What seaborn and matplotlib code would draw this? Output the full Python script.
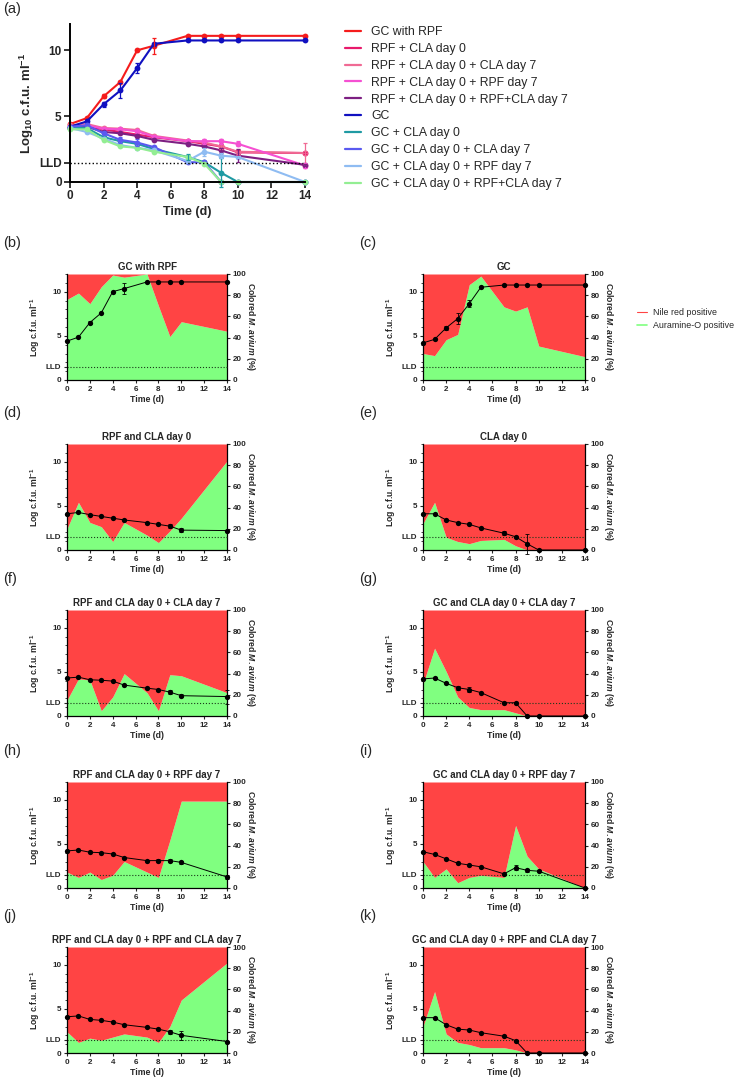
"""
Growth of M. avium under RPF / CLA regimes: c.f.u. counts and staining fractions.
"""

import numpy as np
import pandas as pd
import matplotlib
matplotlib.use('Agg')
import matplotlib.pyplot as plt
import seaborn as sns
from matplotlib.lines import Line2D
from matplotlib.ticker import MultipleLocator

# sampling days and lower limit of detection (log10 c.f.u./ml)
DAYS = [0, 1, 2, 3, 4, 5, 7, 8, 9, 10, 14]
LLD = 1.48

GROUPS = ['GC with RPF', 'RPF + CLA day 0', 'RPF + CLA day 0 + CLA day 7',
          'RPF + CLA day 0 + RPF day 7', 'RPF + CLA day 0 + RPF+CLA day 7',
          'GC', 'GC + CLA day 0', 'GC + CLA day 0 + CLA day 7',
          'GC + CLA day 0 + RPF day 7', 'GC + CLA day 0 + RPF+CLA day 7']
COLORS = ['#f51c1c', '#e8196b', '#f06a94', '#f550d2', '#7d1f82',
          '#1010c0', '#1f9aa3', '#5a5af0', '#8fbcf2', '#93ee93']

# log10 c.f.u./ml per group
gc_rpf = [4.4, 4.85, 6.5, 7.6, 10.0, 10.35, 11.1, 11.1, 11.1, 11.1, 11.1]
rpf_cla0 = [4.1, 4.25, 4.0, 3.8, 3.6, 3.4, 3.1, 2.9, 2.7, 2.25, 2.2]
rpf_cla0_cla7 = [4.3, 4.4, 4.1, 4.05, 3.95, 3.5, 3.15, 3.0, 2.7, 2.3, 2.2]
rpf_cla0_rpf7 = [4.2, 4.3, 4.05, 4.0, 3.85, 3.45, 3.1, 3.1, 3.1, 2.9, 1.25]
rpf_cla0_rpfcla7 = [4.1, 4.2, 3.8, 3.7, 3.5, 3.2, 2.9, 2.7, 2.4, 2.0, 1.3]
gc = [4.2, 4.6, 5.9, 6.95, 8.65, 10.5, 10.75, 10.75, 10.75, 10.75, 10.75]
gc_cla0 = [4.1, 4.1, 3.4, 3.1, 2.9, 2.5, 1.9, 1.5, 0.7, 0.0, 0.0]
gc_cla0_cla7 = [4.2, 4.3, 3.7, 3.2, 3.0, 2.65, 1.5, 1.5, 0.0, 0.0, 0.0]
gc_cla0_rpf7 = [4.1, 3.8, 3.3, 2.8, 2.6, 2.4, 1.6, 2.3, 2.0, 1.9, 0.0]
gc_cla0_rpfcla7 = [4.0, 4.0, 3.2, 2.7, 2.6, 2.3, 1.9, 1.4, 0.0, 0.0, 0.0]

# standard deviations (0 = bar hidden behind marker)
err_gc_rpf = [0, 0, 0.15, 0, 0, 0.6, 0, 0, 0, 0, 0]
err_rpf_cla0 = [0, 0, 0, 0, 0, 0, 0, 0, 0.2, 0.2, 0.1]
err_rpf_cla0_cla7 = [0, 0, 0, 0, 0, 0, 0, 0, 0.2, 0.2, 0.8]
err_rpf_cla0_rpf7 = [0, 0, 0, 0, 0, 0, 0, 0.2, 0.2, 0.2, 0.2]
err_rpf_cla0_rpfcla7 = [0, 0, 0, 0, 0, 0, 0, 0, 0.2, 0.5, 0.1]
err_gc = [0, 0, 0.2, 0.6, 0.4, 0, 0, 0, 0, 0, 0]
err_gc_cla0 = [0, 0, 0, 0, 0, 0, 0.2, 0, 1.1, 0, 0]
err_gc_cla0_cla7 = [0, 0, 0, 0.2, 0.3, 0, 0, 0, 0, 0, 0]
err_gc_cla0_rpf7 = [0, 0, 0, 0, 0, 0, 0, 0.3, 0.2, 0.1, 0]
err_gc_cla0_rpfcla7 = [0, 0, 0, 0, 0, 0, 0, 0, 0, 0, 0]

# Auramine-O positive share (%) for panels (b)-(k); remainder is Nile red positive
pct_gc_rpf = [76, 82, 72, 88, 99, 97, 100, 70, 41, 55, 46]
pct_gc = [25, 23, 38, 43, 90, 98, 69, 65, 69, 32, 22]
pct_rpf_cla0 = [20, 45, 26, 22, 8, 26, 14, 7, 18, 30, 84]
pct_gc_cla0 = [25, 45, 12, 8, 6, 9, 10, 4, 0, 0, 0]
pct_rpf_cla0_cla7 = [15, 35, 34, 5, 18, 40, 22, 5, 39, 38, 22]
pct_gc_cla0_cla7 = [30, 64, 42, 18, 8, 6, 6, 3, 0, 0, 0]
pct_rpf_cla0_rpf7 = [15, 10, 15, 8, 12, 25, 15, 10, 45, 82, 82]
pct_gc_cla0_rpf7 = [25, 10, 18, 5, 10, 12, 10, 59, 30, 18, 0]
pct_rpf_cla0_rpfcla7 = [20, 10, 14, 12, 15, 18, 15, 10, 25, 50, 85]
pct_gc_cla0_rpfcla7 = [25, 58, 18, 10, 8, 5, 5, 3, 0, 0, 0]

CFU = [gc_rpf, rpf_cla0, rpf_cla0_cla7, rpf_cla0_rpf7, rpf_cla0_rpfcla7,
       gc, gc_cla0, gc_cla0_cla7, gc_cla0_rpf7, gc_cla0_rpfcla7]
ERR = [err_gc_rpf, err_rpf_cla0, err_rpf_cla0_cla7, err_rpf_cla0_rpf7, err_rpf_cla0_rpfcla7,
       err_gc, err_gc_cla0, err_gc_cla0_cla7, err_gc_cla0_rpf7, err_gc_cla0_rpfcla7]

PANEL_LETTERS = ['(b)', '(c)', '(d)', '(e)', '(f)', '(g)', '(h)', '(i)', '(j)', '(k)']
PANEL_TITLES = ['GC with RPF', 'GC', 'RPF and CLA day 0', 'CLA day 0',
                'RPF and CLA day 0 + CLA day 7', 'GC and CLA day 0 + CLA day 7',
                'RPF and CLA day 0 + RPF day 7', 'GC and CLA day 0 + RPF day 7',
                'RPF and CLA day 0 + RPF and CLA day 7', 'GC and CLA day 0 + RPF and CLA day 7']
PANEL_CFU = [gc_rpf, gc, rpf_cla0, gc_cla0, rpf_cla0_cla7, gc_cla0_cla7,
             rpf_cla0_rpf7, gc_cla0_rpf7, rpf_cla0_rpfcla7, gc_cla0_rpfcla7]
PANEL_ERR = [err_gc_rpf, err_gc, err_rpf_cla0, err_gc_cla0, err_rpf_cla0_cla7, err_gc_cla0_cla7,
             err_rpf_cla0_rpf7, err_gc_cla0_rpf7, err_rpf_cla0_rpfcla7, err_gc_cla0_rpfcla7]
PANEL_PCT = [pct_gc_rpf, pct_gc, pct_rpf_cla0, pct_gc_cla0, pct_rpf_cla0_cla7, pct_gc_cla0_cla7,
             pct_rpf_cla0_rpf7, pct_gc_cla0_rpf7, pct_rpf_cla0_rpfcla7, pct_gc_cla0_rpfcla7]

RED = '#ff4444'
GREEN = '#80ff80'

W, H = 735, 1085


def rect(left, top, w, h):
    """Pixel box (from top-left) -> figure fraction rect."""
    return [left / W, 1 - (top + h) / H, w / W, h / H]


def bold_ticks(ax):
    for lab in ax.get_xticklabels() + ax.get_yticklabels():
        lab.set_fontweight('bold')


def draw_errors(ax, days, vals, errs, color, lw, cap):
    d = np.array(days)
    v = np.array(vals)
    e = np.array(errs)
    m = e > 0
    if m.any():
        ax.errorbar(d[m], v[m], yerr=e[m], fmt='none', ecolor=color,
                    elinewidth=lw, capsize=cap, capthick=lw, clip_on=False, zorder=3)


sns.set_theme(style='ticks')
plt.rcParams['font.family'] = ['Liberation Sans', 'DejaVu Sans']
plt.rcParams['mathtext.fontset'] = 'custom'
plt.rcParams['mathtext.it'] = 'Liberation Sans:italic:bold'
plt.rcParams['mathtext.rm'] = 'Liberation Sans:bold'
plt.rcParams['mathtext.default'] = 'rm'

fig = plt.figure(figsize=(W / 100, H / 100), dpi=100)

# ---- panel (a): all growth curves ----
ax = fig.add_axes(rect(70, 24, 235, 158))
long = pd.DataFrame({
    'day': DAYS * len(GROUPS),
    'cfu': np.concatenate(CFU),
    'group': np.repeat(GROUPS, len(DAYS)),
})
for g, col, vals, errs in zip(GROUPS, COLORS, CFU, ERR):
    draw_errors(ax, DAYS, vals, errs, col, 0.9, 1.6)
sns.lineplot(data=long, x='day', y='cfu', hue='group', hue_order=GROUPS,
             palette=dict(zip(GROUPS, COLORS)), marker='o', markersize=4.2,
             markeredgewidth=0, linewidth=1.5, errorbar=None, legend=False,
             sort=False, ax=ax)
for ln in ax.lines:
    ln.set_clip_on(False)
ax.plot([0, 14], [LLD, LLD], ls=':', color='black', lw=1.0)
ax.set_xlim(0, 14)
ax.set_ylim(0, 12)
ax.set_xticks(range(0, 15, 2))
ax.set_yticks([0, LLD, 5, 10])
ax.set_yticklabels(['0', 'LLD', '5', '10'])
ax.tick_params(labelsize=8.5, length=4, width=1.3, pad=2)
bold_ticks(ax)
ax.set_xlabel('Time (d)', fontsize=9, fontweight='bold', labelpad=3)
ax.set_ylabel(r'Log$_{10}$ c.f.u. ml$^{-1}$', fontsize=9.5, fontweight='bold', labelpad=2)
sns.despine(ax=ax)
for s in ['left', 'bottom']:
    ax.spines[s].set_linewidth(1.4)
    ax.spines[s].set_color('black')

handles = [Line2D([], [], color=c, lw=1.6) for c in COLORS]
fig.legend(handles, GROUPS, loc='upper left', bbox_to_anchor=(345 / W, 1 - 26 / H),
           frameon=False, fontsize=8.8, handlelength=1.32, handletextpad=0.82,
           labelspacing=0.4, borderpad=0, borderaxespad=0)

fig.text(3 / W, 1 - 9 / H, '(a)', fontsize=10.5, va='center', ha='left')

# ---- panels (b)-(k): c.f.u. over staining fractions ----
COL_LEFT = [67, 423]
COL_W = [160, 162]
ROW_TOP = [274, 444, 610, 782, 947]
PH = 106
LABEL_X = [3, 359]

for i in range(len(PANEL_TITLES)):
    row, col = divmod(i, 2)
    top = ROW_TOP[row]
    ax = fig.add_axes(rect(COL_LEFT[col], top, COL_W[col], PH))
    ax2 = ax.twinx()
    pct = PANEL_PCT[i]
    ax2.fill_between(DAYS, 0, pct, color=GREEN, lw=0)
    ax2.fill_between(DAYS, pct, 100, color=RED, lw=0)
    ax2.set_ylim(0, 100)
    ax2.set_yticks(range(0, 101, 20))
    ax.set_zorder(ax2.get_zorder() + 1)
    ax.patch.set_visible(False)

    ax.plot([0, 14], [LLD, LLD], ls=':', color='#1a3a1a', lw=0.8)
    draw_errors(ax, DAYS, PANEL_CFU[i], PANEL_ERR[i], 'black', 0.6, 1.2)
    sns.lineplot(x=DAYS, y=PANEL_CFU[i], color='black', marker='o', markersize=3.8,
                 markeredgewidth=0, linewidth=0.7, errorbar=None, ax=ax)
    for ln in ax.lines:
        ln.set_clip_on(False)

    ax.set_xlim(0, 14)
    ax.set_ylim(0, 12)
    ax.set_xticks(range(0, 15, 2))
    ax.set_yticks([0, LLD, 5, 10])
    ax.set_yticklabels(['0', 'LLD', '5', '10'])
    ax.yaxis.set_minor_locator(MultipleLocator(1))
    for a in (ax, ax2):
        a.tick_params(labelsize=5.8, length=2.5, width=0.8, pad=1.5)
        a.tick_params(which='minor', length=1.5, width=0.6)
        bold_ticks(a)
    ax.set_title(PANEL_TITLES[i], fontsize=7, fontweight='bold', pad=3)
    ax.set_xlabel('Time (d)', fontsize=6.3, fontweight='bold', labelpad=2)
    ax.set_ylabel(r'Log c.f.u. ml$^{-1}$', fontsize=6.2, fontweight='bold', labelpad=3)
    ax2.set_ylabel(r'Colored $\mathit{M}$. $\mathit{avium}$ (%)', fontsize=6.2,
                   fontweight='bold', rotation=270, labelpad=8)

    for s in ['top', 'right']:
        ax.spines[s].set_visible(False)
    for s in ['top', 'left', 'bottom']:
        ax2.spines[s].set_visible(False)
    for sp in (ax.spines['left'], ax.spines['bottom'], ax2.spines['right']):
        sp.set_linewidth(0.9)
        sp.set_color('black')

    fig.text(LABEL_X[col] / W, 1 - (top - 31) / H, PANEL_LETTERS[i],
             fontsize=10.5, va='center', ha='left')

stain_handles = [Line2D([], [], color=RED, lw=0.8), Line2D([], [], color=GREEN, lw=1.2)]
fig.legend(stain_handles, ['Nile red positive', 'Auramine-O positive'], loc='upper left',
           bbox_to_anchor=(637 / W, 1 - 308 / H), frameon=False, fontsize=6.4,
           handlelength=1.1, handletextpad=0.7, labelspacing=0.45,
           borderpad=0, borderaxespad=0)

fig.savefig('out.png', dpi=100)
